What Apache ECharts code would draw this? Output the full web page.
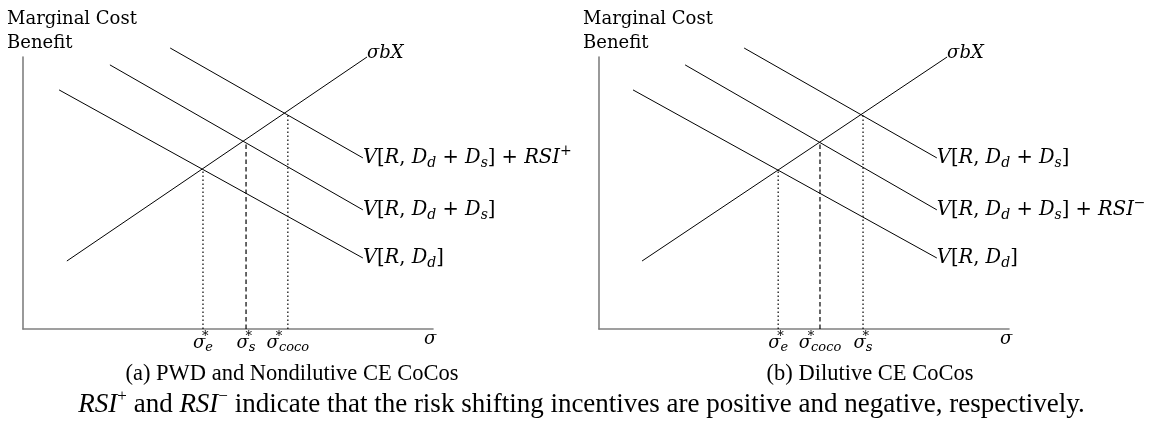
<!DOCTYPE html>
<html><head><meta charset="utf-8">
<script src="https://cdn.jsdelivr.net/npm/echarts@6/dist/echarts.min.js"></script>
<style>html,body{margin:0;padding:0;background:#fff}#c{width:1163px;height:423px}</style>
</head><body><div id="c"></div>
<script>
// ---------- data (abstract units: x 0..100, y 0..100) ----------
// Panel (a): PWD and Nondilutive CE CoCos
const costA = [[10.7, 25.0], [83.9, 100.0]];          // sigma b X
const vTopA = [[35.9, 103.3], [82.9, 62.9]];          // V[R,Dd+Ds]+RSI+
const vMidA = [[21.2, 97.1], [82.9, 43.8]];           // V[R,Dd+Ds]
const vBotA = [[8.8, 87.9], [82.9, 26.1]];            // V[R,Dd]
const eqXA = [43.9, 54.4, 64.6];
const eqYA = [58.1, 68.8, 79.4];
const eqSubA = ['e', 's', 'coco'];
const eqDashA = ['dot', 'dash', 'dot'];
// Panel (b): Dilutive CE CoCos
const costB = [[10.5, 25.0], [84.9, 100.0]];
const vTopB = [[35.4, 103.3], [82.4, 62.9]];          // V[R,Dd+Ds]
const vMidB = [[21.0, 97.1], [82.4, 43.8]];           // V[R,Dd+Ds]+RSI-
const vBotB = [[8.3, 87.9], [82.4, 26.1]];            // V[R,Dd]
const eqXB = [43.7, 53.9, 64.4];
const eqYB = [58.1, 68.8, 79.4];
const eqSubB = ['e', 'coco', 's'];
const eqDashB = ['dot', 'dash', 'dot'];
const sigmaLabelX = 99.3;
// texts
const labelsA = [
  '{i|V}{r|[}{i|R}{r|, }{i|D}{sub|d}{r| + }{i|D}{sub|s}{r|] + }{i|RSI}{sup|+}',
  '{i|V}{r|[}{i|R}{r|, }{i|D}{sub|d}{r| + }{i|D}{sub|s}{r|]}',
  '{i|V}{r|[}{i|R}{r|, }{i|D}{sub|d}{r|]}'
];
const labelsB = [
  '{i|V}{r|[}{i|R}{r|, }{i|D}{sub|d}{r| + }{i|D}{sub|s}{r|]}',
  '{i|V}{r|[}{i|R}{r|, }{i|D}{sub|d}{r| + }{i|D}{sub|s}{r|] + }{i|RSI}{sup|−}',
  '{i|V}{r|[}{i|R}{r|, }{i|D}{sub|d}{r|]}'
];
const costLabel = '{i|σbX}';
const yName = 'Marginal Cost\nBenefit';
const captionA = '(a) PWD and Nondilutive CE CoCos';
const captionB = '(b) Dilutive CE CoCos';
const footnote = '{i|RSI}{sup|+}{r| and }{i|RSI}{sup|−}{r| indicate that the risk shifting incentives are positive and negative, respectively.}';

// ---------- styles ----------
const FF = 'DejaVu Serif';
function mathRich(fs, ss) {
  return {
    i: {fontFamily: FF, fontStyle: 'italic', fontWeight: 'normal', fontSize: fs, color: '#000'},
    r: {fontFamily: FF, fontWeight: 'normal', fontSize: fs, color: '#000'},
    sub: {fontFamily: FF, fontStyle: 'italic', fontWeight: 'normal', fontSize: ss, padding: [Math.round(fs * 0.55), 0, 0, 0], color: '#000'},
    sup: {fontFamily: FF, fontWeight: 'normal', fontSize: ss, padding: [0, 0, Math.round(fs * 0.72), 0], color: '#000'},
    supz: {fontFamily: FF, fontWeight: 'normal', fontSize: ss, padding: [0, 0, Math.round(fs * 0.72), 0], width: 0.01, color: '#000'}
  };
}
const richLabel = mathRich(19.5, 14);
const richTick = mathRich(18, 13);
const CF = 'Liberation Serif';
const richFoot = {
  i: {fontFamily: CF, fontStyle: 'italic', fontWeight: 'normal', fontSize: 27, color: '#000'},
  r: {fontFamily: CF, fontWeight: 'normal', fontSize: 27, color: '#000'},
  sup: {fontFamily: CF, fontWeight: 'normal', fontSize: 17, padding: [0, 0, 16, 0], color: '#000'}
};
const dashType = {dot: [1.5, 2.5], dash: [4.5, 3]};
const axisColor = '#808080';

function panelSeries(g, cost, lines, labels, eqX, eqY, eqDash) {
  const s = [];
  s.push({
    type: 'line', xAxisIndex: g, yAxisIndex: g, data: cost, symbol: 'none', clip: false,
    silent: true, animation: false, lineStyle: {color: '#000', width: 1},
    endLabel: {show: true, formatter: costLabel, rich: richTick, distance: 0, padding: [0, 0, 8, 0]}
  });
  lines.forEach((ln, k) => {
    s.push({
      type: 'line', xAxisIndex: g, yAxisIndex: g, data: ln, symbol: 'none', clip: false,
      silent: true, animation: false, lineStyle: {color: '#000', width: 1},
      endLabel: {show: true, formatter: labels[k], rich: richLabel, distance: 0}
    });
  });
  eqX.forEach((x, k) => {
    s.push({
      type: 'line', xAxisIndex: g, yAxisIndex: g, data: [[x, 0], [x, eqY[k]]], symbol: 'none',
      silent: true, animation: false,
      lineStyle: {color: '#000', width: 1.2, type: dashType[eqDash[k]]}
    });
  });
  return s;
}

function xAxisFor(g, eqX, eqSub) {
  return {
    gridIndex: g, type: 'value', min: 0, max: 100,
    axisLine: {show: true, lineStyle: {color: axisColor, width: 1.6}},
    axisTick: {show: false}, splitLine: {show: false},
    axisLabel: {
      show: true, margin: 1, rich: richTick,
      customValues: eqX.concat([sigmaLabelX]),
      formatter: function (v) {
        const k = eqX.indexOf(v);
        if (k < 0) return '{i|σ}';
        return '{i|σ}{supz|*}{sub|' + eqSub[k] + '}';
      }
    }
  };
}
function yAxisFor(g) {
  return {
    gridIndex: g, type: 'value', min: 0, max: 100,
    axisLine: {show: true, lineStyle: {color: axisColor, width: 1.6}},
    axisTick: {show: false}, splitLine: {show: false}, axisLabel: {show: false},
    name: yName, nameLocation: 'end', nameGap: 2,
    nameTextStyle: {fontFamily: FF, fontSize: 18, color: '#000', align: 'left', verticalAlign: 'bottom',
      lineHeight: 24, padding: [0, 0, 0, -16]}
  };
}

const chart = echarts.init(document.getElementById('c'));
chart.setOption({
  animation: false,
  backgroundColor: '#fff',
  grid: [
    {left: 23, top: 57, width: 410, height: 272, containLabel: false, outerBoundsMode: 'none'},
    {left: 599, top: 57, width: 410, height: 272, containLabel: false, outerBoundsMode: 'none'}
  ],
  xAxis: [xAxisFor(0, eqXA, eqSubA), xAxisFor(1, eqXB, eqSubB)],
  yAxis: [yAxisFor(0), yAxisFor(1)],
  title: [
    {text: captionA, left: 292, top: 363, textAlign: 'center', padding: 0,
      textStyle: {fontFamily: CF, fontSize: 22.5, fontWeight: 'normal', color: '#000'}},
    {text: captionB, left: 870, top: 363, textAlign: 'center', padding: 0,
      textStyle: {fontFamily: CF, fontSize: 22.5, fontWeight: 'normal', color: '#000'}},
    {text: footnote, left: 'center', top: 388, padding: 0,
      textStyle: {rich: richFoot, fontSize: 27, fontWeight: 'normal'}}
  ],
  series: panelSeries(0, costA, [vTopA, vMidA, vBotA], labelsA, eqXA, eqYA, eqDashA)
    .concat(panelSeries(1, costB, [vTopB, vMidB, vBotB], labelsB, eqXB, eqYB, eqDashB))
});
</script></body></html>
